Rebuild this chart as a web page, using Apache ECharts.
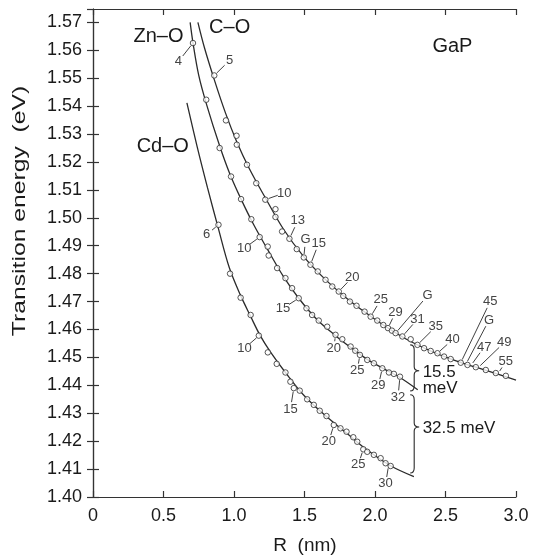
<!DOCTYPE html>
<html>
<head>
<meta charset="utf-8">
<script src="https://cdn.jsdelivr.net/npm/echarts@6/dist/echarts.min.js"></script>
<style>
html,body{margin:0;padding:0;background:#fff;}
#chart{width:533px;height:557px;}
</style>
</head>
<body>
<div id="chart"></div>
<script>
// ---- Data (R in nm, transition energy in eV) ----
const xTicks = [0, 0.5, 1.0, 1.5, 2.0, 2.5, 3.0];
const yTicks = [1.40,1.41,1.42,1.43,1.44,1.45,1.46,1.47,1.48,1.49,1.50,1.51,1.52,1.53,1.54,1.55,1.56,1.57];

const coPoints = [
  [0.860,1.5510],[0.943,1.5349],[1.018,1.5294],[1.020,1.5262],[1.092,1.5190],[1.158,1.5124],
  [1.222,1.5065],[1.294,1.5031],[1.294,1.5003],[1.341,1.4951],[1.393,1.4925],[1.445,1.4888],
  [1.495,1.4858],[1.542,1.4832],[1.594,1.4808],[1.649,1.4778],[1.697,1.4754],[1.743,1.4736],
  [1.775,1.4720],[1.822,1.4700],[1.869,1.4685],[1.926,1.4664],[1.969,1.4646],[2.016,1.4632],
  [2.059,1.4616],[2.092,1.4605],[2.120,1.4596],[2.146,1.4587],[2.194,1.4575],[2.253,1.4565],
  [2.301,1.4545],[2.348,1.4533],[2.395,1.4523],[2.443,1.4515],[2.490,1.4503],[2.537,1.4494],
  [2.608,1.4481],[2.656,1.4473],[2.715,1.4465],[2.786,1.4455],[2.857,1.4444],[2.928,1.4434]
];
const coCurve = [
  [0.744,1.5700],[0.790,1.5610],[0.860,1.5495],[0.940,1.5375],[1.020,1.5272],[1.110,1.5175],
  [1.222,1.5072],[1.350,1.4960],[1.493,1.4862],[1.640,1.4783],[1.775,1.4722],[1.920,1.4665],
  [2.059,1.4616],[2.220,1.4566],[2.395,1.4523],[2.560,1.4490],[2.715,1.4465],[2.860,1.4442],
  [3.000,1.4419]
];

const znPoints = [
  [0.709,1.5626],[0.803,1.5423],[0.898,1.5250],[0.979,1.5148],[1.050,1.5067],[1.123,1.4995],
  [1.182,1.4931],[1.239,1.4897],[1.246,1.4865],[1.306,1.4820],[1.365,1.4784],[1.412,1.4748],
  [1.459,1.4712],[1.514,1.4676],[1.554,1.4652],[1.601,1.4632],[1.661,1.4610],[1.720,1.4581],
  [1.768,1.4565],[1.827,1.4539],[1.860,1.4524],[1.893,1.4509],[1.945,1.4491],[1.992,1.4479],
  [2.052,1.4461],[2.099,1.4446],[2.134,1.4441],[2.177,1.4431]
];
const znCurve = [
  [0.689,1.5700],[0.709,1.5627],[0.750,1.5510],[0.803,1.5410],[0.898,1.5258],[0.970,1.5158],
  [1.050,1.5067],[1.140,1.4975],[1.240,1.4885],[1.350,1.4790],[1.459,1.4712],[1.590,1.4635],
  [1.720,1.4578],[1.830,1.4535],[1.945,1.4493],[2.060,1.4460],[2.177,1.4428],[2.303,1.4384]
];

const cdPoints = [
  [0.890,1.4975],[0.972,1.4800],[1.047,1.4714],[1.118,1.4652],[1.176,1.4578],[1.240,1.4518],
  [1.303,1.4477],[1.365,1.4446],[1.400,1.4413],[1.424,1.4390],[1.466,1.4381],[1.519,1.4350],
  [1.566,1.4330],[1.608,1.4309],[1.656,1.4290],[1.708,1.4258],[1.755,1.4246],[1.798,1.4234],
  [1.846,1.4214],[1.874,1.4198],[1.917,1.4171],[1.945,1.4162],[1.992,1.4151],[2.040,1.4139],
  [2.075,1.4121],[2.111,1.4111]
];
const cdCurve = [
  [0.666,1.5412],[0.739,1.5254],[0.812,1.5108],[0.888,1.4964],[0.967,1.4821],[1.045,1.4724],
  [1.116,1.4649],[1.187,1.4577],[1.258,1.4520],[1.365,1.4446],[1.500,1.4362],[1.656,1.4288],
  [1.800,1.4228],[1.945,1.4168],[2.110,1.4112],[2.276,1.4073]
];

// shell-number annotations: [pointR, pointE, labelR, labelE, text]
const coLabels = [
  [0.860,1.5510,0.969,1.5564,'5'],[1.222,1.5065,1.357,1.5089,'10'],[1.393,1.4925,1.452,1.4989,'13'],
  [1.495,1.4858,1.507,1.4921,'G'],[1.542,1.4832,1.601,1.4909,'15'],[1.743,1.4736,1.839,1.4787,'20'],
  [1.969,1.4646,2.040,1.4706,'25'],[2.092,1.4605,2.146,1.4662,'29'],[2.146,1.4587,2.372,1.4721,'G'],
  [2.194,1.4575,2.301,1.4637,'31'],[2.301,1.4545,2.431,1.4610,'35'],[2.443,1.4515,2.549,1.4563,'40'],
  [2.608,1.4481,2.817,1.4700,'45'],[2.644,1.4475,2.809,1.4634,'G'],[2.679,1.4470,2.774,1.4537,'47'],
  [2.729,1.4462,2.916,1.4553,'49'],[2.871,1.4441,2.928,1.4485,'55']
];
const znLabels = [
  [0.709,1.5626,0.606,1.5560,'4'],[1.182,1.4931,1.073,1.4891,'10'],[1.459,1.4712,1.348,1.4676,'15'],
  [1.720,1.4581,1.708,1.4533,'20'],[1.893,1.4509,1.874,1.4453,'25'],[2.052,1.4461,2.023,1.4398,'29'],
  [2.177,1.4431,2.163,1.4357,'32']
];
const cdLabels = [
  [0.890,1.4975,0.806,1.4940,'6'],[1.178,1.4578,1.075,1.4533,'10'],[1.424,1.4390,1.400,1.4315,'15'],
  [1.708,1.4258,1.672,1.4198,'20'],[1.917,1.4171,1.881,1.4115,'25'],[2.097,1.4115,2.075,1.4047,'30']
];

// curve names & notes: [R, E, text]
const curveNames = [[0.464,1.5650,'Zn–O'],[0.969,1.5680,'C–O'],[0.495,1.5256,'Cd–O'],[2.549,1.5614,'GaP']];
const notes = [[2.338,1.4448,'15.5'],[2.338,1.4391,'meV'],[2.338,1.4247,'32.5 meV']];
// braces: [R, E top, E bottom, E tip]
const braces = [[2.278,1.4545,1.4380,1.4452],[2.278,1.4366,1.4086,1.4251]];

// ---- Chart ----
const FONT = '"Liberation Sans", Arial, Helvetica, sans-serif';
const INK = '#2b2b2b';
const chart = echarts.init(document.getElementById('chart'), null, {renderer:'canvas'});

function leaderSeries(arr) {
  return {
    type: 'custom',
    data: arr.map(a => [a[0], a[1], a[2], a[3]]),
    z: 5,
    silent: true,
    renderItem: function (params, api) {
      const a = arr[params.dataIndex];
      const p = api.coord([a[0], a[1]]);
      const t = api.coord([a[2], a[3]]);
      const dx = t[0] - p[0], dy = t[1] - p[1];
      const len = Math.sqrt(dx*dx + dy*dy);
      const children = [];
      if (len > 12) {
        const ux = dx/len, uy = dy/len;
        children.push({
          type: 'line',
          shape: {x1: p[0]+ux*3.5, y1: p[1]+uy*3.5, x2: t[0]-ux*7, y2: t[1]-uy*7},
          style: {stroke: INK, lineWidth: 0.9}
        });
      }
      children.push({
        type: 'text',
        style: {x: t[0], y: t[1], text: a[4], fill: '#444', font: '13px ' + FONT,
                textAlign: 'center', textVerticalAlign: 'middle'}
      });
      return {type: 'group', children: children};
    }
  };
}

function textSeries(arr, size, align) {
  return {
    type: 'custom',
    data: arr.map(a => [a[0], a[1]]),
    z: 6,
    silent: true,
    renderItem: function (params, api) {
      const a = arr[params.dataIndex];
      const p = api.coord([a[0], a[1]]);
      return {
        type: 'text',
        style: {x: p[0], y: p[1], text: a[2], fill: '#1a1a1a', font: size + 'px ' + FONT,
                textAlign: align, textVerticalAlign: 'middle'}
      };
    }
  };
}

const braceSeries = {
  type: 'custom',
  data: braces.map(b => [b[0], b[1]]),
  z: 5,
  silent: true,
  renderItem: function (params, api) {
    const b = braces[params.dataIndex];
    const top = api.coord([b[0], b[1]]);
    const bot = api.coord([b[0], b[2]]);
    const tip = api.coord([b[0], b[3]]);
    const x = top[0], y1 = top[1], y2 = bot[1], ym = tip[1];
    const path = 'M' + (x-4) + ' ' + y1 + ' Q' + x + ' ' + y1 + ' ' + x + ' ' + (y1+5) +
      ' L' + x + ' ' + (ym-4) + ' Q' + x + ' ' + ym + ' ' + (x+5) + ' ' + ym +
      ' Q' + x + ' ' + ym + ' ' + x + ' ' + (ym+4) +
      ' L' + x + ' ' + (y2-5) + ' Q' + x + ' ' + y2 + ' ' + (x-4) + ' ' + y2;
    return {
      type: 'path',
      shape: {pathData: path},
      style: {stroke: INK, lineWidth: 1.1, fill: null}
    };
  }
};

function curve(data) {
  return {type: 'line', data: data, smooth: 0.35, showSymbol: false,
          lineStyle: {color: INK, width: 1.3}, z: 2, silent: true};
}
function dots(data) {
  return {type: 'scatter', data: data, symbol: 'circle', symbolSize: 5.5,
          itemStyle: {color: '#fff', borderColor: INK, borderWidth: 1}, z: 3, silent: true};
}

const axisCommon = {
  type: 'value',
  axisLine: {show: true, lineStyle: {color: '#333', width: 1.2}},
  axisTick: {show: true, inside: true, length: 6, lineStyle: {color: '#333', width: 1.2}},
  splitLine: {show: false}
};

chart.setOption({
  animation: false,
  backgroundColor: '#fff',
  grid: {left: 93, right: 17, top: 9, bottom: 60, show: false},
  xAxis: [
    Object.assign({}, axisCommon, {
      min: xTicks[0], max: xTicks[xTicks.length-1], interval: 0.5, position: 'bottom',
      axisLabel: {show: true, margin: 10, color: '#1a1a1a', fontSize: 18, fontFamily: FONT,
                  formatter: v => (v === 0 ? '0' : v.toFixed(1))}
    }),
    Object.assign({}, axisCommon, {
      min: xTicks[0], max: xTicks[xTicks.length-1], interval: 0.5, position: 'top',
      axisLabel: {show: false}
    })
  ],
  yAxis: [
    Object.assign({}, axisCommon, {
      min: yTicks[0], max: 1.5748, interval: 0.01, position: 'left',
      axisLabel: {show: true, margin: 11, color: '#1a1a1a', fontSize: 18, fontFamily: FONT,
                  formatter: v => v.toFixed(2), showMaxLabel: false}
    }),
    Object.assign({}, axisCommon, {
      min: yTicks[0], max: 1.5748, interval: 0.01, position: 'right',
      axisLabel: {show: false}
    })
  ],
  graphic: [
    {type: 'text', x: 305, y: 546,
     style: {text: 'R  (nm)', font: '19px ' + FONT, fill: '#1a1a1a',
             textAlign: 'center', textVerticalAlign: 'middle'}},
    {type: 'text', x: 19.5, y: 211, rotation: Math.PI/2, scaleX: 1.3,
     style: {text: 'Transition energy  (eV)', font: '19px ' + FONT, fill: '#1a1a1a',
             textAlign: 'center', textVerticalAlign: 'middle'}}
  ],
  series: [
    curve(coCurve), curve(znCurve), curve(cdCurve),
    dots(coPoints), dots(znPoints), dots(cdPoints),
    leaderSeries(coLabels), leaderSeries(znLabels), leaderSeries(cdLabels),
    textSeries(curveNames, 20, 'center'),
    textSeries(notes, 17, 'left'),
    braceSeries
  ]
});
</script>
</body>
</html>
